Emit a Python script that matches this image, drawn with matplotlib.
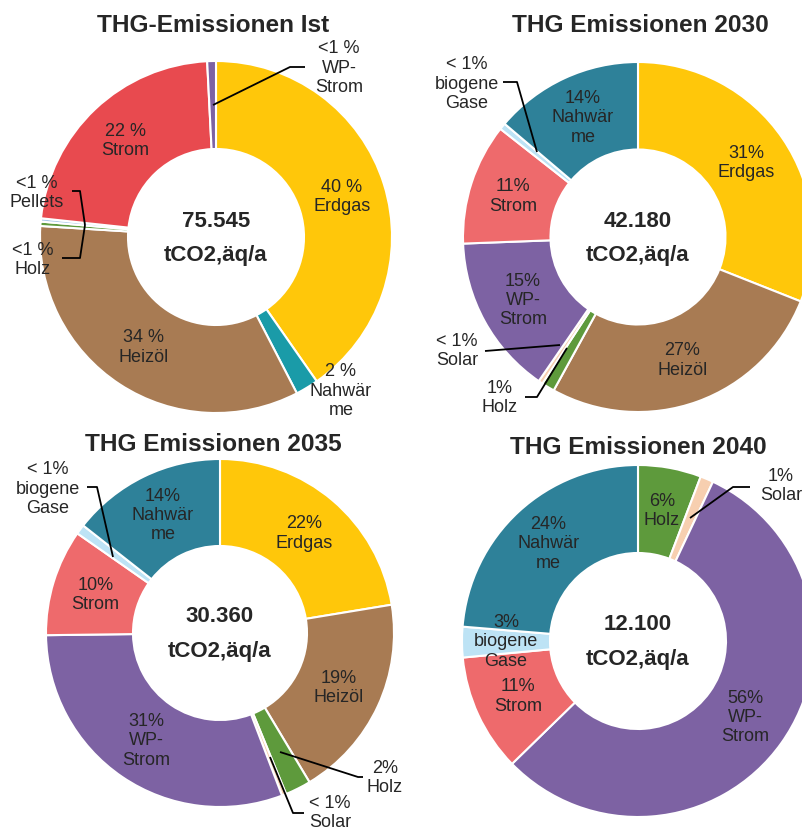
import matplotlib
matplotlib.use("Agg")
import matplotlib.pyplot as plt
import numpy as np

W, H = 803, 833

# ---------------- data ----------------
titles = ["THG-Emissionen Ist", "THG Emissionen 2030", "THG Emissionen 2035", "THG Emissionen 2040"]
totals = ["75.545", "42.180", "30.360", "12.100"]
unit = "tCO2,äq/a"

ist_cats = ["Erdgas", "Nahwärme", "Heizöl", "Holz", "Pellets", "Strom", "WP-Strom"]
ist_vals = [40.3, 2.1, 33.6, 0.4, 0.3, 22.5, 0.8]
ist_pct = ["40 %", "2 %", "34 %", "<1 %", "<1 %", "22 %", "<1 %"]

y2030_cats = ["Erdgas", "Heizöl", "Holz", "Solar", "WP-Strom", "Strom", "biogene Gase", "Nahwärme"]
y2030_vals = [31.0, 27.0, 1.2, 0.4, 14.8, 11.2, 0.6, 13.8]
y2030_pct = ["31%", "27%", "1%", "< 1%", "15%", "11%", "< 1%", "14%"]

y2035_cats = ["Erdgas", "Heizöl", "Holz", "Solar", "WP-Strom", "Strom", "biogene Gase", "Nahwärme"]
y2035_vals = [22.4, 19.0, 2.4, 0.4, 30.6, 9.9, 0.9, 14.4]
y2035_pct = ["22%", "19%", "2%", "< 1%", "31%", "10%", "< 1%", "14%"]

y2040_cats = ["Holz", "Solar", "WP-Strom", "Strom", "biogene Gase", "Nahwärme"]
y2040_vals = [5.8, 1.2, 55.7, 10.8, 2.8, 23.7]
y2040_pct = ["6%", "1%", "56%", "11%", "3%", "24%"]

display_names = {"Nahwärme": "Nahwär\nme", "WP-Strom": "WP-\nStrom", "biogene Gase": "biogene\nGase"}

# ---------------- styles ----------------
colors = {
    "Erdgas": "#FFC70A",
    "Heizöl": "#A87B53",
    "Strom": "#EE6A6C",
    "Nahwärme": "#2E8199",
    "WP-Strom": "#7D62A3",
    "Holz": "#5E9A3C",
    "Solar": "#F7CFB0",
    "biogene Gase": "#BDE3F5",
    "Pellets": "#A9C8E8",
}
ist_overrides = {"Strom": "#E84A4F", "Nahwärme": "#1A9BA8"}

TXT = "#262626"
FONT = "Liberation Sans"
LS = 1.17

# layout: (center x px, center y px from top, radius px, title x, title y)
geo = [
    (216, 237, 176, 213, 25),
    (638, 237, 175, 640, 25),
    (220, 633, 174, 213, 444),
    (638, 641, 176, 638, 447),
]

# outside labels: text centre (px from top) and leader path
outside = {
    (0, "WP-Strom"): ((339, 68), [(213, 105), (290, 67), (305, 67)]),
    (0, "Pellets"): ((37, 193), [(72, 191), (80, 191), (85, 225)]),
    (0, "Holz"): ((33, 260), [(62, 258), (80, 258), (85, 225)]),
    (0, "Nahwärme"): ((341, 391), None),
    (1, "biogene Gase"): ((467, 84), [(503, 82), (517, 82), (537, 152)]),
    (1, "Solar"): ((457, 351), [(485, 351), (560, 345)]),
    (1, "Holz"): ((500, 398), [(525, 397), (537, 397), (567, 348)]),
    (2, "biogene Gase"): ((48, 489), [(87, 487), (97, 487), (113, 557)]),
    (2, "Holz"): ((385, 778), [(280, 752), (358, 777), (363, 777)]),
    (2, "Solar"): ((330, 813), [(270, 757), (293, 813), (304, 813)]),
    (3, "Solar"): ((781, 486), [(690, 518), (733, 487), (750, 487)]),
}

charts = [
    (ist_cats, ist_vals, ist_pct),
    (y2030_cats, y2030_vals, y2030_pct),
    (y2035_cats, y2035_vals, y2035_pct),
    (y2040_cats, y2040_vals, y2040_pct),
]

fig = plt.figure(figsize=(W / 100, H / 100), dpi=100)
ax = fig.add_axes([0, 0, 1, 1])


def P(x, y):
    return x, H - y


for i, (cats, vals, pcts) in enumerate(charts):
    cx, cy, r, tx, ty = geo[i]
    cols = [(ist_overrides.get(c, colors[c]) if i == 0 else colors[c]) for c in cats]
    wedges, _ = ax.pie(vals, colors=cols, startangle=90, counterclock=False,
                       center=P(cx, cy), radius=r,
                       wedgeprops=dict(width=r * 0.5, edgecolor="white", linewidth=1.5))
    for w, c, p in zip(wedges, cats, pcts):
        label = p + "\n" + display_names.get(c, c)
        key = (i, c)
        if key in outside:
            (lx, ly), path = outside[key]
            ax.text(*P(lx, ly), label, ha="center", va="center", fontsize=13,
                    color=TXT, family=FONT, linespacing=LS)
            if path:
                xs = [q[0] for q in path]
                ys = [H - q[1] for q in path]
                ax.plot(xs, ys, color="black", lw=1.3, solid_capstyle="butt")
        else:
            mid = np.deg2rad((w.theta1 + w.theta2) / 2)
            x0, y0 = P(cx, cy)
            ax.text(x0 + 0.75 * r * np.cos(mid), y0 + 0.75 * r * np.sin(mid), label,
                    ha="center", va="center", fontsize=13, color=TXT, family=FONT,
                    linespacing=LS)
    ax.text(*P(cx, cy - 16), totals[i], ha="center", va="center", fontsize=16,
            fontweight="bold", color=TXT, family=FONT)
    ax.text(*P(cx, cy + 18), unit, ha="center", va="center", fontsize=16,
            fontweight="bold", color=TXT, family=FONT)
    ax.text(*P(tx, ty), titles[i], ha="center", va="center", fontsize=17.6,
            fontweight="bold", color=TXT, family=FONT)

ax.set_xlim(0, W)
ax.set_ylim(0, H)
ax.set_aspect("auto")
ax.axis("off")
fig.savefig("out.png", dpi=100)
